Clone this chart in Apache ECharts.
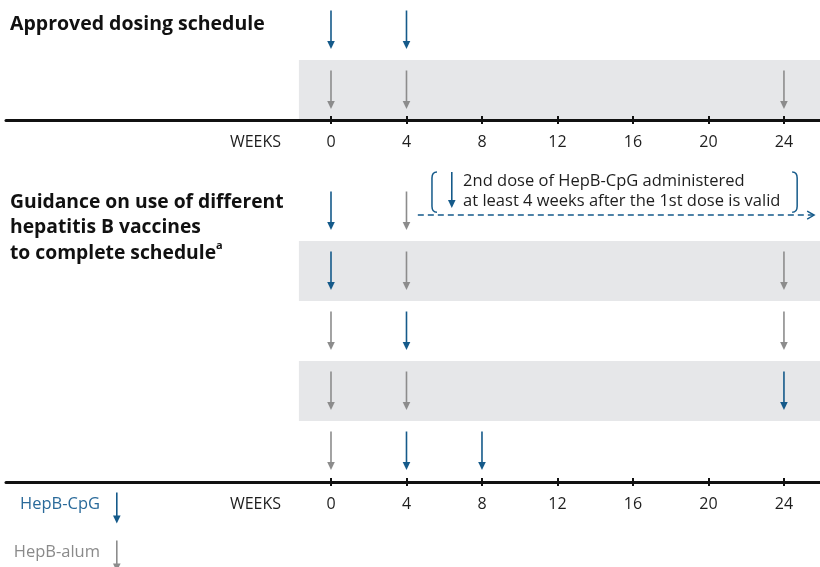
<!DOCTYPE html>
<html><head><meta charset="utf-8">
<script src="https://cdn.jsdelivr.net/npm/echarts@6/dist/echarts.min.js"></script>
<style>html,body{margin:0;padding:0;background:#fff}#c{width:820px;height:567px}</style>
</head><body><div id="c"></div>
<script>
// ---- data ----
const weekTicks = [0, 4, 8, 12, 16, 20, 24];
const axisTitle = 'WEEKS';
const vaccines = ['HepB-CpG', 'HepB-alum'];
// Approved schedule: [week, row]  (row 1 = upper, row 0 = lower/shaded)
const approvedCpG = [[0, 1], [4, 1]];
const approvedAlum = [[0, 0], [4, 0], [24, 0]];
const approvedShaded = [0];
// Mixed schedules: rows 4 (top) .. 0 (bottom)
const mixedCpG = [[0, 4], [0, 3], [4, 2], [24, 1], [4, 0], [8, 0]];
const mixedAlum = [[4, 4], [4, 3], [24, 3], [0, 2], [24, 2], [0, 1], [4, 1], [0, 0]];
const mixedShaded = [3, 1];
// Note: 2nd CpG dose valid >= 4 weeks after 1st (dashed arrow from/to week)
const noteRange = [4.6, 25.6];
const noteDoseWeek = [6.4];
const noteLines = ['2nd dose of HepB-CpG administered', 'at least 4 weeks after the 1st dose is valid'];
const titles = ['Approved dosing schedule', 'Guidance on use of different', 'hepatitis B vaccines', 'to complete schedule'];

// ---- style ----
const BLUE = '#155a8a', GREY = '#8c8c8c', BAND = '#e6e7e9', INK = '#1e1e1e';
const FONT = '"Open Sans", Roboto, sans-serif';
const X_MIN = -17.22, X_MAX = 25.91, BAND_START = -1.7;

function arrowItem(color) {
  return function (params, api) {
    const x = api.value(0), r = api.value(1);
    const top = api.coord([x, r + 0.825]);
    const bot = api.coord([x, r + 0.183]);
    const head = 8, hw = 3.8;
    return { type: 'group', children: [
      { type: 'line', shape: { x1: top[0], y1: top[1], x2: bot[0], y2: bot[1] - head + 1 }, style: { stroke: color, lineWidth: 1.6 } },
      { type: 'polygon', shape: { points: [[bot[0] - hw, bot[1] - head], [bot[0] + hw, bot[1] - head], [bot[0], bot[1]]] }, style: { fill: color } }
    ] };
  };
}
function bandItem(params, api) {
  const r = api.value(1);
  const p1 = api.coord([BAND_START, r + 1]);
  const p2 = api.coord([X_MAX, r]);
  return { type: 'rect', shape: { x: p1[0], y: p1[1], width: p2[0] - p1[0], height: p2[1] - p1[1] }, style: { fill: BAND } };
}
function noteItem(params, api) {
  const x0 = api.value(0), x1 = api.value(1), r = 4;
  const a = api.coord([x0, r + 0.433]);
  const b = api.coord([x1, r + 0.433]);
  const bl = api.coord([5.35, r + 1.15]);
  const br = api.coord([24.7, r + 0.48]);
  const yT = bl[1], yB = br[1], xl = bl[0], xr = br[0];
  const d = api.coord([noteDoseWeek[0], r + 1.15]);
  const dB = api.coord([noteDoseWeek[0], r + 0.55]);
  const t = api.coord([7.0, r + 1.0]);
  const t2 = api.coord([7.0, r + 0.667]);
  return { type: 'group', children: [
    { type: 'line', shape: { x1: a[0], y1: a[1], x2: b[0], y2: b[1] }, style: { stroke: BLUE, lineWidth: 1.4, lineDash: [6, 4] } },
    { type: 'polyline', shape: { points: [[b[0] - 7, b[1] - 4], [b[0], b[1]], [b[0] - 7, b[1] + 4]] }, style: { stroke: BLUE, lineWidth: 1.4, fill: null } },
    { type: 'path', shape: { pathData: `M${xl + 5} ${yT} Q${xl} ${yT} ${xl} ${yT + 6} L${xl} ${yB - 6} Q${xl} ${yB} ${xl + 5} ${yB}` }, style: { stroke: BLUE, lineWidth: 1.5, fill: null } },
    { type: 'path', shape: { pathData: `M${xr - 5} ${yT} Q${xr} ${yT} ${xr} ${yT + 6} L${xr} ${yB - 6} Q${xr} ${yB} ${xr - 5} ${yB}` }, style: { stroke: BLUE, lineWidth: 1.5, fill: null } },
    { type: 'line', shape: { x1: d[0], y1: d[1], x2: dB[0], y2: dB[1] - 7 }, style: { stroke: BLUE, lineWidth: 1.6 } },
    { type: 'polygon', shape: { points: [[dB[0] - 3.8, dB[1] - 8], [dB[0] + 3.8, dB[1] - 8], [dB[0], dB[1]]] }, style: { fill: BLUE } },
    { type: 'text', x: t[0], y: t[1], style: { text: noteLines[0], font: '16.5px ' + FONT, fill: INK, verticalAlign: 'middle' } },
    { type: 'text', x: t2[0], y: t2[1], style: { text: noteLines[1], font: '16.5px ' + FONT, fill: INK, verticalAlign: 'middle' } }
  ] };
}

function xAxes(grid) {
  const base = { type: 'value', gridIndex: grid, min: X_MIN, max: X_MAX, position: 'bottom', splitLine: { show: false } };
  return [
    Object.assign({}, base, {
      axisLine: { onZero: false, lineStyle: { color: '#111', width: 3 } },
      axisTick: { show: true, length: 4, customValues: weekTicks, lineStyle: { color: '#111', width: 2 } },
      axisLabel: { customValues: [-4].concat(weekTicks), margin: 14, fontSize: 16, fontFamily: FONT, color: INK,
        formatter: v => (v === -4 ? axisTitle : String(v)) }
    }),
    Object.assign({}, base, {
      axisLine: { show: false, onZero: false },
      axisTick: { show: true, inside: true, length: 4, customValues: weekTicks, lineStyle: { color: '#111', width: 2 } },
      axisLabel: { show: false }
    })
  ];
}

const chart = echarts.init(document.getElementById('c'));
chart.setOption({
  animation: false,
  grid: [
    { left: 6, right: 0, top: 0, height: 120 },
    { left: 6, right: 0, top: 181, height: 301 }
  ],
  xAxis: xAxes(0).concat(xAxes(1)),
  yAxis: [
    { type: 'value', gridIndex: 0, min: 0, max: 2, show: false },
    { type: 'value', gridIndex: 1, min: -0.0167, max: 5, show: false }
  ],
  series: [
    { type: 'custom', xAxisIndex: 0, yAxisIndex: 0, z: -1, renderItem: bandItem, data: approvedShaded.map(r => [0, r]), encode: { x: 0, y: 1 } },
    { type: 'custom', xAxisIndex: 2, yAxisIndex: 1, z: -1, renderItem: bandItem, data: mixedShaded.map(r => [0, r]), encode: { x: 0, y: 1 } },
    { type: 'custom', name: vaccines[0], xAxisIndex: 0, yAxisIndex: 0, renderItem: arrowItem(BLUE), data: approvedCpG, encode: { x: 0, y: 1 } },
    { type: 'custom', name: vaccines[1], xAxisIndex: 0, yAxisIndex: 0, renderItem: arrowItem(GREY), data: approvedAlum, encode: { x: 0, y: 1 } },
    { type: 'custom', name: vaccines[0], xAxisIndex: 2, yAxisIndex: 1, renderItem: arrowItem(BLUE), data: mixedCpG, encode: { x: 0, y: 1 } },
    { type: 'custom', name: vaccines[1], xAxisIndex: 2, yAxisIndex: 1, renderItem: arrowItem(GREY), data: mixedAlum, encode: { x: 0, y: 1 } },
    { type: 'custom', xAxisIndex: 2, yAxisIndex: 1, renderItem: noteItem, data: [noteRange], encode: { x: [0, 1] } }
  ],
  graphic: [
    { type: 'text', left: 10, top: 14, style: { text: titles[0], font: 'bold 19.5px ' + FONT, fill: '#111' } },
    { type: 'text', left: 10, top: 193, style: { rich: { b: { font: 'bold 19.3px ' + FONT, fill: '#111', lineHeight: 25.5 }, s: { font: 'bold 11px ' + FONT, fill: '#111', verticalAlign: 'top', lineHeight: 25.5 } },
      text: '{b|' + titles[1] + '}\n{b|' + titles[2] + '}\n{b|' + titles[3] + '}{s|a}' } },
    { type: 'text', right: 720, top: 496, style: { text: vaccines[0], font: '16.5px ' + FONT, fill: '#2a6a9a', align: 'right' } },
    { type: 'group', left: 113, top: 490, children: [
      { type: 'line', shape: { x1: 4, y1: 0, x2: 4, y2: 24 }, style: { stroke: BLUE, lineWidth: 1.6 } },
      { type: 'polygon', shape: { points: [[0.2, 23], [7.8, 23], [4, 31]] }, style: { fill: BLUE } } ] },
    { type: 'text', right: 720, top: 544, style: { text: vaccines[1], font: '16.5px ' + FONT, fill: '#8a8a8a', align: 'right' } },
    { type: 'group', left: 113, top: 538, children: [
      { type: 'line', shape: { x1: 4, y1: 0, x2: 4, y2: 24 }, style: { stroke: GREY, lineWidth: 1.6 } },
      { type: 'polygon', shape: { points: [[0.2, 23], [7.8, 23], [4, 31]] }, style: { fill: GREY } } ] }
  ]
});
</script></body></html>
